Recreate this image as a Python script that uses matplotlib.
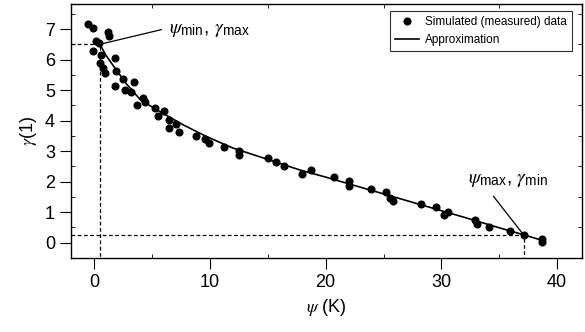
import matplotlib
matplotlib.use("Agg")
import matplotlib.pyplot as plt
from matplotlib.ticker import MultipleLocator

plt.rcParams['font.family'] = ['Liberation Sans', 'DejaVu Sans']
plt.rcParams['mathtext.fontset'] = 'custom'
plt.rcParams['mathtext.rm'] = 'Liberation Sans'
plt.rcParams['mathtext.it'] = 'STIXGeneral:italic'
plt.rcParams['mathtext.bf'] = 'Liberation Sans:bold'

# simulated (measured) points
psi_data = [-0.5, -0.1, 1.2, 1.3, 0.2, 0.4, -0.1, 0.6, 1.8, 0.5, 0.8, 0.9,
            1.9, 2.5, 1.8, 3.4, 2.7, 3.2, 4.2, 3.7, 4.4, 5.3, 5.5, 6.0,
            6.5, 7.1, 6.5, 7.3, 8.8, 9.6, 9.9, 11.2, 12.5, 12.5, 15.0, 15.7,
            16.4, 18.0, 18.7, 20.7, 22.0, 22.0, 23.9, 25.2, 25.6, 25.8, 28.2,
            29.5, 30.6, 30.2, 32.9, 33.1, 34.1, 35.9, 37.1, 38.7, 38.7]
gamma_data = [7.15, 7.02, 6.91, 6.77, 6.62, 6.53, 6.28, 6.15, 6.04, 5.88, 5.71, 5.55,
              5.63, 5.35, 5.13, 5.28, 5.0, 4.95, 4.73, 4.51, 4.62, 4.40, 4.15, 4.30,
              4.02, 3.89, 3.75, 3.64, 3.51, 3.39, 3.26, 3.13, 3.02, 2.88, 2.77, 2.64,
              2.52, 2.26, 2.39, 2.15, 2.01, 1.87, 1.77, 1.66, 1.48, 1.38, 1.27,
              1.17, 1.02, 0.92, 0.73, 0.62, 0.53, 0.37, 0.26, 0.13, 0.01]

# approximation curve
psi_fit = [0.5, 1.0, 1.8, 2.8, 4.0, 5.7, 7.7, 9.7, 12, 15, 17.8, 20, 23, 26,
           29, 32, 35, 37.1, 38.7]
gamma_fit = [6.5, 6.15, 5.72, 5.2, 4.68, 4.29, 3.86, 3.48, 3.1, 2.73, 2.38, 2.15,
             1.82, 1.49, 1.16, 0.83, 0.49, 0.26, 0.08]

psi_min, gamma_max = 0.5, 6.5
psi_max, gamma_min = 37.1, 0.26

fig = plt.figure(figsize=(5.85, 3.32), dpi=100)
ax = fig.add_axes([71 / 585, 74 / 332, 511 / 585, 254 / 332])

ax.plot(psi_data, gamma_data, 'o', color='black', markersize=4.8,
        label='Simulated (measured) data')
ax.plot(psi_fit, gamma_fit, '-', color='black', linewidth=1.2,
        label='Approximation')

# dashed guides
ax.plot([-2, psi_min, psi_min], [gamma_max, gamma_max, -0.5], '--',
        color='black', linewidth=0.9, dashes=(3, 2))
ax.plot([-2, psi_max, psi_max], [gamma_min, gamma_min, -0.5], '--',
        color='black', linewidth=0.9, dashes=(3, 2))

# annotations
ax.plot([psi_min, 5.8], [gamma_max, 6.98], color='black', linewidth=0.9)
ax.text(6.5, 6.95, r'$\psi_{\rm min}$, $\gamma_{\rm max}$', fontsize=14,
        va='center', ha='left')
ax.plot([34.5, psi_max], [1.52, gamma_min], color='black', linewidth=0.9)
ax.text(32.3, 2.05, r'$\psi_{\rm max}$, $\gamma_{\rm min}$', fontsize=14,
        va='center', ha='left')

ax.set_xlim(-2, 42.15)
ax.set_ylim(-0.5, 7.82)
ax.xaxis.set_major_locator(MultipleLocator(10))
ax.xaxis.set_minor_locator(MultipleLocator(5))
ax.yaxis.set_major_locator(MultipleLocator(1))
ax.yaxis.set_minor_locator(MultipleLocator(0.5))
ax.tick_params(which='major', direction='out', length=8, width=0.8,
               labelsize=13, top=False, right=False)
ax.tick_params(which='minor', direction='in', length=3, width=0.6,
               top=True, right=True)
for s in ax.spines.values():
    s.set_linewidth(1.0)

ax.set_xlabel(r'$\psi$ (K)', fontsize=13, labelpad=4)
ax.set_ylabel(r'$\gamma$(1)', fontsize=13, labelpad=4)

leg = ax.legend(loc='upper right', bbox_to_anchor=(0.98, 0.972), fontsize=8.5,
                frameon=True, fancybox=False, edgecolor='black',
                handlelength=2.0, handletextpad=0.5, borderpad=0.45,
                labelspacing=0.45, borderaxespad=0)
leg.get_frame().set_linewidth(0.8)

fig.savefig('out.png', dpi=100)
